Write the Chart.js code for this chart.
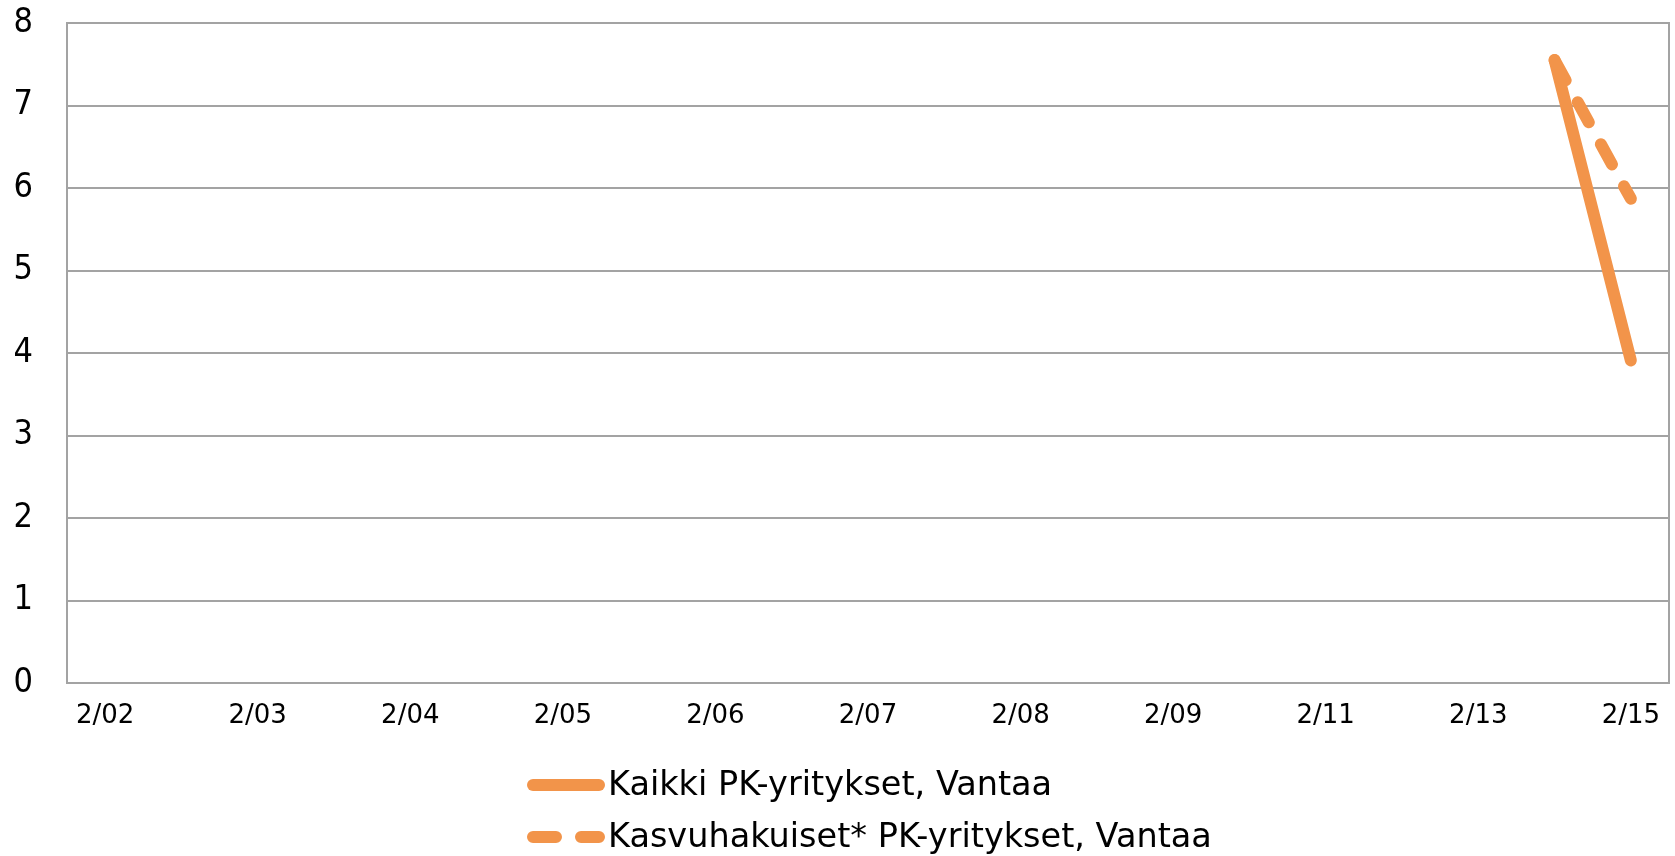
<!DOCTYPE html>
<html lang="fi">
<head>
<meta charset="utf-8">
<title>PK-yritykset, Vantaa</title>
<script src="https://cdn.jsdelivr.net/npm/chart.js@4.4.1/dist/chart.umd.min.js"></script>
<style>
	html, body { margin: 0; padding: 0; background: #fff; }
	#kaavio { width: 1675px; height: 856px; }
</style>
</head>
<body>
<div id="kaavio"><canvas id="myChart"></canvas></div>
<script>
// kategoriat: nimetty joka toinen, välissä tyhjät paikat
const kategoriat = ["2/02", "", "2/03", "", "2/04", "", "2/05", "", "2/06", "", "2/07", "", "2/08", "", "2/09", "", "2/11", "", "2/13", "", "2/15"];
const kaikkiPK = [null, null, null, null, null, null, null, null, null, null, null, null, null, null, null, null, null, null, null, 7.55, 3.91];
const kasvuhakuisetPK = [null, null, null, null, null, null, null, null, null, null, null, null, null, null, null, null, null, null, null, 7.55, 5.87];
const yTiksit = [0, 1, 2, 3, 4, 5, 6, 7, 8];

const oranssi = "#F2944A";
const harmaa = "#a3a3a3";
const fontti = '"DejaVu Sans", sans-serif';
const kapea = '"DejaVu Sans Condensed", "DejaVu Sans", sans-serif';

//selite piirretään itse, koska rivit ovat allekkain ja vasemmalle tasattu
const selite = {
	id: "selite",
	afterDraw(chart) {
		const ctx = chart.ctx;
		chart.data.datasets.forEach((ds, i) => {
			const y = 785 + i * 52;
			ctx.save();
			ctx.strokeStyle = ds.borderColor;
			ctx.lineWidth = ds.borderWidth;
			ctx.lineCap = "round";
			ctx.setLineDash(ds.borderDash || []);
			ctx.beginPath();
			ctx.moveTo(533, y);
			ctx.lineTo(599, y);
			ctx.stroke();
			ctx.setLineDash([]);
			ctx.fillStyle = "#000";
			ctx.font = "33.5px " + fontti;
			ctx.textBaseline = "middle";
			ctx.fillText(ds.label, 608, y + 1);
			ctx.restore();
		});
	},
};

const data = {
	labels: kategoriat,
	datasets: [
		{
			label: "Kaikki PK-yritykset, Vantaa",
			data: kaikkiPK,
			borderColor: oranssi,
			backgroundColor: oranssi,
			borderWidth: 12,
			borderCapStyle: "round",
			borderJoinStyle: "round",
			pointRadius: 0,
			fill: false,
			tension: 0,
		},
		{
			label: "Kasvuhakuiset* PK-yritykset, Vantaa",
			data: kasvuhakuisetPK,
			borderColor: oranssi,
			backgroundColor: oranssi,
			borderWidth: 12,
			borderDash: [23, 25],
			borderCapStyle: "round",
			borderJoinStyle: "round",
			pointRadius: 0,
			fill: false,
			tension: 0,
		},
	],
};

const config = {
	type: "line",
	data,
	options: {
		responsive: true,
		maintainAspectRatio: false,
		animation: false,
		layout: {
			padding: { left: 0, right: 6, top: 23, bottom: 113 },
		},
		plugins: {
			legend: { display: false },
			tooltip: { enabled: false },
		},
		scales: {
			x: {
				offset: true,
				grid: { display: false, drawTicks: false },
				border: { display: true, color: harmaa, width: 2 },
				ticks: {
					autoSkip: false,
					maxRotation: 0,
					padding: 18,
					color: "#000",
					font: { family: fontti, size: 26 },
				},
				afterFit: (s) => {
					s.height = 60;
					s.paddingLeft = 0;
					s.paddingRight = 0;
				},
			},
			y: {
				min: 0,
				max: 8,
				afterBuildTicks: (s) => {
					s.ticks = yTiksit.map((v) => ({ value: v }));
				},
				grid: { color: harmaa, lineWidth: 2, drawTicks: false },
				border: { display: true, color: harmaa, width: 2 },
				ticks: {
					padding: 34,
					color: "#000",
					font: { family: kapea, size: 34 },
				},
				afterFit: (s) => {
					s.width = 67;
					s.paddingTop = 0;
					s.paddingBottom = 0;
				},
			},
			oikea: {
				position: "right",
				min: 0,
				max: 8,
				grid: { display: false, drawTicks: false },
				border: { display: true, color: harmaa, width: 2 },
				ticks: { display: false },
				afterFit: (s) => {
					s.width = 0;
					s.paddingTop = 0;
					s.paddingBottom = 0;
				},
			},
		},
	},
	plugins: [selite],
};

new Chart(document.getElementById("myChart"), config);
</script>
</body>
</html>
